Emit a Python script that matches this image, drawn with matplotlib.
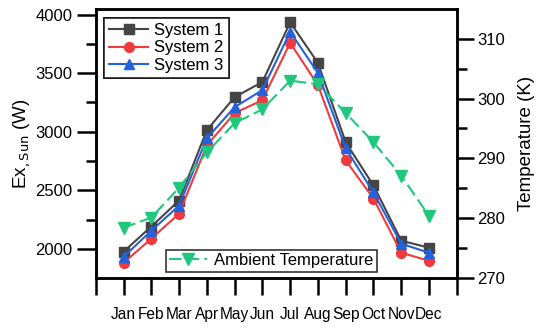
import matplotlib
matplotlib.use("Agg")
import matplotlib.pyplot as plt
from matplotlib.ticker import FixedLocator, MultipleLocator

plt.rcParams['font.family'] = ['Liberation Sans', 'DejaVu Sans']

months = ["Jan", "Feb", "Mar", "Apr", "May", "Jun", "Jul", "Aug", "Sep", "Oct", "Nov", "Dec"]
system1 = [1975, 2190, 2412, 3013, 3296, 3425, 3935, 3588, 2910, 2541, 2069, 2009]
system2 = [1880, 2086, 2300, 2884, 3159, 3270, 3760, 3399, 2755, 2429, 1966, 1897]
system3 = [1931, 2154, 2369, 2944, 3210, 3356, 3854, 3502, 2858, 2481, 2043, 1966]
ambient = [278.4, 280.1, 285.1, 291.0, 295.9, 298.2, 303.0, 302.4, 297.6, 292.7, 287.1, 280.4]

x = list(range(1, 13))

fig = plt.figure(figsize=(5.38, 3.29), dpi=100)
ax = fig.add_axes([0.178, 0.155, 0.671, 0.818])
ax2 = ax.twinx()

c1, c2, c3, cg = '#454545', '#f03a3e', '#2462dc', '#1fc87c'
l1, = ax.plot(x, system1, '-s', color=c1, lw=1.5, ms=7, label='System 1')
l2, = ax.plot(x, system2, '-o', color=c2, lw=1.5, ms=7, label='System 2')
l3, = ax.plot(x, system3, '-^', color=c3, lw=1.5, ms=7, label='System 3')
lg, = ax2.plot(x, ambient, 'v', color=cg, ls=(0, (6, 2.5)), lw=1.5, ms=8, label='Ambient Temperature')

ax.set_xlim(0, 13)
ax.set_ylim(1750, 4050)
ax2.set_ylim(270, 315)

ax.xaxis.set_major_locator(FixedLocator(list(range(0, 14))))
ax.set_xticklabels([''] + months + [''])
ax.yaxis.set_major_locator(FixedLocator([2000, 2500, 3000, 3500, 4000]))
ax.yaxis.set_minor_locator(FixedLocator([2250, 2750, 3250, 3750]))
ax2.yaxis.set_major_locator(FixedLocator([270, 280, 290, 300, 310]))
ax2.yaxis.set_minor_locator(FixedLocator([275, 285, 295, 305]))

for a in (ax, ax2):
    for s in a.spines.values():
        s.set_linewidth(1.8)

ax.tick_params(axis='x', which='major', direction='out', length=12, width=1.8, pad=9, labelsize=11.2)
ax.tick_params(axis='y', which='major', direction='out', length=14, width=1.8, pad=3, labelsize=12)
ax.tick_params(axis='y', which='minor', direction='out', length=7, width=1.8)
ax2.tick_params(axis='y', which='major', direction='out', length=12, width=1.8, pad=3, labelsize=12)
ax2.tick_params(axis='y', which='minor', direction='out', length=7, width=1.8)

ax.set_ylabel(r'Ex$_{,\mathrm{Sun}}$ (W)', fontsize=13.5, labelpad=2)
ax2.set_ylabel('Temperature (K)', fontsize=13.5, labelpad=9)

leg1 = ax.legend(handles=[l1, l2, l3], loc='upper left', bbox_to_anchor=(0.01, 0.985),
                 fontsize=12, frameon=True, fancybox=False, edgecolor='black',
                 handlelength=2.3, handletextpad=0.4, borderpad=0.3, labelspacing=0.15,
                 borderaxespad=0.3)
leg1.get_frame().set_linewidth(1.2)
ax.add_artist(leg1)
leg2 = ax2.legend(handles=[lg], loc='lower left', bbox_to_anchor=(0.18, 0.005),
                  fontsize=12, frameon=True, fancybox=False, edgecolor='black',
                  handlelength=2.3, handletextpad=0.4, borderpad=0.2, borderaxespad=0.3)
leg2.get_frame().set_linewidth(1.2)

fig.savefig('out.png', dpi=100)
